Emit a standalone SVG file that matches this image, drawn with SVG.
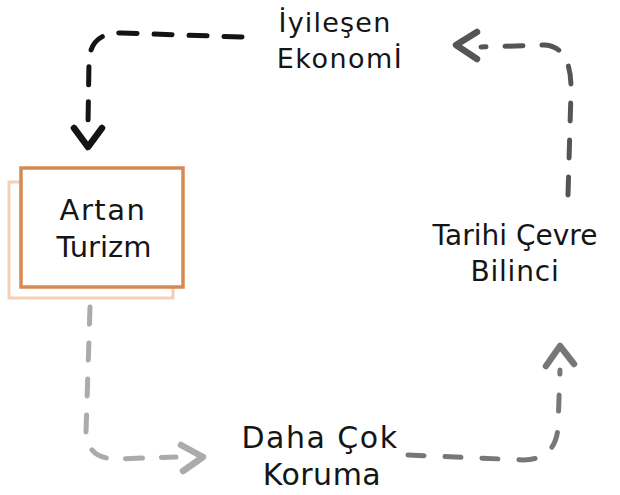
<svg xmlns="http://www.w3.org/2000/svg" width="620" height="495" viewBox="0 0 620 495">
<style>
.lbl{font-family:"DejaVu Sans","Liberation Sans",sans-serif;fill:#151515;text-anchor:middle}
.con{fill:none;stroke-linecap:round;stroke-linejoin:round}
</style>
<rect width="620" height="495" fill="#ffffff"/>
<g id="connectors">
<g id="c-economy-tourism" stroke="#141414">
<path class="con" d="M242,37 L122,33 Q90,32 89,62 L88,124" stroke-width="5" stroke-dasharray="18 17"/>
<path class="con" d="M74,128 L88,147 L102,128" stroke-width="6.5"/>
</g>
<g id="c-tourism-protection" stroke="#ababab">
<path class="con" d="M90,307 L86,432 Q87,458 115,459 L176,457" stroke-width="5" stroke-dasharray="17 19"/>
<path class="con" d="M181,445 L203,457 L183,471" stroke-width="6.5"/>
</g>
<g id="c-protection-awareness" stroke="#777777">
<path class="con" d="M408,455 L524,460 Q556,459 558,427 L560,370" stroke-width="5" stroke-dasharray="16 21"/>
<path class="con" d="M546,366 L560,346 L574,364" stroke-width="6.5"/>
</g>
<g id="c-awareness-economy" stroke="#555555">
<path class="con" d="M568,195 L571,92 Q572,47 545,45 L481,47" stroke-width="5" stroke-dasharray="18 19"/>
<path class="con" d="M477,32 L456,45 L477,59" stroke-width="6.5"/>
</g>
</g>
<g id="node-tourism">
<rect x="9" y="182" width="164" height="116" fill="#ffffff" stroke="#f3d0b6" stroke-width="3"/>
<rect x="21" y="168" width="162" height="119" fill="#ffffff" stroke="#d68a52" stroke-width="3.5"/>
<text class="lbl" x="103" y="220" font-size="29" letter-spacing="1.5">Artan</text>
<text class="lbl" x="104" y="257" font-size="29">Turizm</text>
</g>
<g id="node-economy">
<text class="lbl" x="335" y="32" font-size="27" letter-spacing="1.2">İyileşen</text>
<text class="lbl" x="340" y="68" font-size="27" letter-spacing="1.5">Ekonomİ</text>
</g>
<g id="node-awareness">
<text class="lbl" x="515" y="245" font-size="28">Tarihi Çevre</text>
<text class="lbl" x="515" y="281" font-size="28" letter-spacing="0.8">Bilinci</text>
</g>
<g id="node-protection">
<text class="lbl" x="320" y="448" font-size="30" letter-spacing="1.5">Daha Çok</text>
<text class="lbl" x="322" y="485" font-size="30" letter-spacing="0.5">Koruma</text>
</g>
</svg>
